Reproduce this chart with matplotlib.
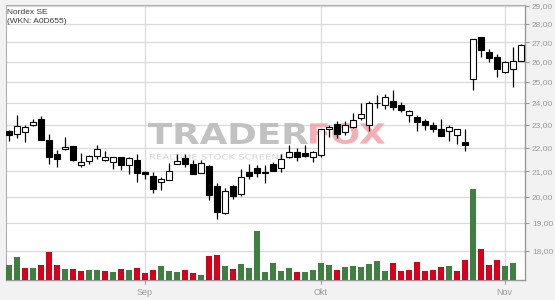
import matplotlib
matplotlib.use("Agg")
import matplotlib.pyplot as plt
from matplotlib.ticker import NullLocator
from matplotlib.textpath import TextPath
from matplotlib.patches import PathPatch
from matplotlib.font_manager import FontProperties
from matplotlib.transforms import Affine2D

# daily candles (Aug - Nov), index = trading day
opens = [22.74, 22.60, 22.69, 22.99, 23.26, 22.34, 21.72, 21.92, 22.06, 21.28,
         21.45, 21.63, 21.49, 21.41, 21.59, 21.28, 21.47, 20.99, 20.82, 20.57,
         20.65, 21.31, 21.55, 21.30, 20.93, 21.22, 20.42, 19.36, 20.42, 20.10,
         20.99, 21.13, 20.99, 21.30, 21.13, 21.62, 21.80, 21.76, 21.59, 21.69,
         22.80, 23.02, 22.67, 22.91, 23.32, 22.99, 23.98, 23.90, 24.10, 23.91,
         23.42, 23.35, 23.17, 22.99, 22.81, 22.70, 22.55, 22.26, 25.16, 27.29,
         26.52, 26.26, 25.51, 25.64, 26.04]
highs = [22.78, 23.43, 23.00, 23.24, 23.39, 22.57, 21.89, 22.48, 22.08, 21.79,
         21.70, 22.10, 21.85, 21.61, 21.61, 21.62, 21.72, 21.00, 20.97, 20.77,
         21.37, 21.73, 21.73, 21.48, 21.48, 21.25, 20.53, 20.33, 20.44, 21.09,
         21.29, 21.25, 21.27, 21.41, 21.71, 22.10, 22.00, 22.09, 21.86, 22.82,
         22.99, 23.17, 23.17, 23.52, 23.98, 24.09, 24.37, 24.41, 24.62, 24.03,
         23.66, 23.45, 23.26, 23.14, 23.26, 22.99, 22.81, 22.80, 27.20, 27.30,
         26.66, 26.38, 26.05, 26.74, 26.91]
lows = [22.29, 22.41, 22.24, 22.93, 22.32, 21.32, 21.18, 21.91, 21.44, 21.18,
        21.32, 21.51, 21.45, 21.10, 21.07, 20.90, 20.57, 20.69, 20.15, 20.27,
        20.64, 21.30, 21.20, 20.89, 20.92, 19.86, 19.13, 19.33, 19.89, 20.02,
        20.69, 20.77, 20.55, 21.01, 20.97, 21.55, 21.44, 21.62, 21.41, 21.58,
        22.48, 22.41, 22.55, 22.87, 23.23, 22.70, 23.78, 23.70, 23.68, 23.57,
        23.14, 22.70, 22.75, 22.67, 22.50, 22.29, 22.17, 21.86, 24.59, 26.26,
        25.97, 25.26, 25.46, 24.74, 26.03]
closes = [22.56, 22.96, 22.90, 23.12, 22.33, 21.58, 21.52, 22.04, 21.48, 21.41,
          21.66, 21.92, 21.58, 21.60, 21.28, 21.54, 20.93, 20.90, 20.29, 20.69,
          21.02, 21.43, 21.30, 20.90, 21.37, 20.06, 19.42, 20.23, 20.03, 20.77,
          20.80, 20.93, 20.94, 21.02, 21.52, 21.83, 21.59, 21.66, 21.80, 22.80,
          22.89, 22.58, 22.99, 23.21, 23.50, 23.98, 24.00, 24.30, 23.80, 23.66,
          23.63, 23.14, 23.00, 22.81, 22.52, 22.88, 22.80, 22.09, 27.18, 26.59,
          26.17, 25.62, 26.00, 26.04, 26.86]
# volume (last day has none yet)
volumes = [15, 23, 12, 12, 15, 28, 15, 11, 11, 9,
           10, 10, 9, 8, 11, 10, 12, 7, 10, 14,
           9, 8, 10, 7, 5, 24, 25, 14, 11, 16,
           12, 49, 8, 17, 9, 12, 8, 8, 10, 17,
           15, 10, 13, 14, 13, 16, 19, 9, 17, 9,
           10, 18, 9, 10, 13, 14, 9, 20, 91, 31,
           15, 20, 14, 17]

month_pos = [17, 39, 62]
month_labels = ["Sep", "Okt", "Nov"]
price_ticks = [18, 19, 20, 21, 22, 23, 24, 25, 26, 27, 28, 29]

fig = plt.figure(figsize=(5.55, 3.0), dpi=100, facecolor="#f2f2f2")
ax = fig.add_axes([5.5 / 555, 20 / 300, 519.5 / 555, 275 / 300])
ax.set_facecolor("white")
ax.set_yscale("log")
ax.set_ylim(17.0, 29.04)
ax.set_xlim(-0.4, 64.54)
ax.set_axisbelow(True)

# volume on its own overlay axis
vax = ax.twinx()
vax.set_ylim(0, 275)
vax.set_xlim(-0.4, 64.54)
vcol = ["#3f7f3f"]
for i in range(1, len(volumes)):
    vcol.append("#3f7f3f" if closes[i] >= closes[i - 1] else "#d7001b")
vax.bar(range(len(volumes)), volumes, width=0.72, color=vcol, zorder=2)
vax.axis("off")

# watermark
def stretched_text(txt, x0, y0, x1, y1, color, bold=True, alpha=1.0):
    fp = FontProperties(family="DejaVu Sans", weight="bold" if bold else "normal")
    tp = TextPath((0, 0), txt, size=1, prop=fp)
    ext = tp.get_extents()
    bx0 = (x0 - 5.5) / 519.5
    bx1 = (x1 - 5.5) / 519.5
    by0 = (280 - y1) / 275
    by1 = (280 - y0) / 275
    tr = Affine2D().translate(-ext.x0, -ext.y0).scale(
        (bx1 - bx0) / ext.width, (by1 - by0) / ext.height).translate(bx0, by0)
    ax.add_patch(PathPatch(tr.transform_path(tp), transform=ax.transAxes,
                           fc=color, ec="none", alpha=alpha, zorder=1))

stretched_text("TRADER", 148, 123, 308, 144, "#b8b8b8", alpha=0.85)
stretched_text("FOX", 310, 123, 385, 144, "#f2a0aa", alpha=0.85)
stretched_text("REALTIME STOCK SCREENER", 150, 154, 292, 159.5, "#d4d4d4", bold=False)

# candles
n = len(closes)
xs = list(range(n))
ax.vlines(xs, lows, highs, color="black", lw=0.9, zorder=2)
bottoms = [min(o, c) for o, c in zip(opens, closes)]
heights = [max(abs(c - o), 0.01) for o, c in zip(opens, closes)]
fills = ["white" if c >= o else "black" for o, c in zip(opens, closes)]
ax.bar(xs, heights, bottom=bottoms, width=0.72, color=fills,
       edgecolor="black", linewidth=0.8, zorder=3)

ax.grid(True, color="#dadada", lw=0.9)
ax.yaxis.tick_right()
ax.set_yticks(price_ticks)
ax.set_yticklabels(["%d,00" % p for p in price_ticks])
ax.yaxis.set_minor_locator(NullLocator())
ax.set_xticks(month_pos)
ax.set_xticklabels(month_labels)
ax.tick_params(axis="y", which="both", left=False, right=True, labelleft=False,
               labelright=True, length=3, width=0.8, color="#999999",
               labelsize=6, labelcolor="#9a9a9a", pad=2)
ax.tick_params(axis="x", length=3, width=0.8, color="#999999", labelsize=6.5,
               labelcolor="#9a9a9a", pad=3)
for lab in ax.get_xticklabels() + ax.get_yticklabels():
    lab.set_family("Liberation Sans")
for side in ["left", "top"]:
    ax.spines[side].set_color("#b0b0b0")
for side in ["right", "bottom"]:
    ax.spines[side].set_color("#999999")
    ax.spines[side].set_linewidth(1.0)

fig.text(7 / 555, 1 - 12.8 / 300, "Nordex SE", fontsize=6, color="#3a3a3a",
         family="Liberation Sans", va="center")
fig.text(7 / 555, 1 - 21.8 / 300, "(WKN: A0D655)", fontsize=6, color="#3a3a3a",
         family="Liberation Sans", va="center")

fig.savefig("out.png", dpi=100, facecolor=fig.get_facecolor())
